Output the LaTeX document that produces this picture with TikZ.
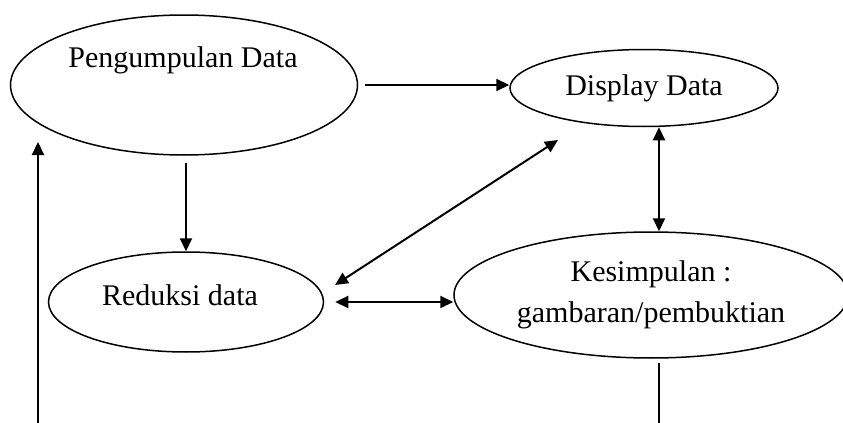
\documentclass[tikz,border=0pt]{standalone}
\usepackage{fontspec}
\setmainfont{Liberation Serif}
\usetikzlibrary{arrows.meta, shapes.geometric}

\begin{document}
\begin{tikzpicture}[x=0.5pt, y=-0.5pt, >={Triangle[length=6.5pt, width=6pt]},
    stage/.style={ellipse, draw, line width=0.75pt, inner sep=0pt, align=center, font=\fontsize{15}{20.5}\selectfont},
    txt/.style={font=\fontsize{15}{20.5}\selectfont},
    flow/.style={line width=1pt}]
    \useasboundingbox (0,0) rectangle (843,423);
    \clip (0,0) rectangle (843,423);

    \node[stage, minimum width=173.5pt, minimum height=70pt] (peng) at (184,85) {};
    \node[txt] (pengtext) at (183,60) {Pengumpulan Data};
    \node[stage, minimum width=134pt, minimum height=38.5pt] (disp) at (644,88) {Display Data};
    \node[stage, minimum width=137.5pt, minimum height=50pt] (red) at (186,302) {};
    \node[txt] (redtext) at (180,295) {Reduksi data};
    \node[stage, minimum width=197pt, minimum height=63pt] (kes) at (651,295) {Kesimpulan :\\gambaran/pembuktian};

    \coordinate (loopbot) at (38,423);
    \coordinate (looptop) at (38,142);
    \coordinate (kesbot) at (659,423);

    \draw[flow, ->] ([xshift=3.5pt]peng.east) -- (peng.east -| disp.west);
    \draw[flow, ->] ([shift={(2,7)}]peng.south) -- (red.north);
    \draw[flow, <->] ([shift={(149,-17)}]red.center) -- ([shift={(-86,52)}]disp.center);
    \draw[flow, <->] ([shift={(15,0)}]disp.south) -- ([shift={(8,0)}]kes.north);
    \draw[flow, <->] ([xshift=5.5pt]red.east) -- (red.east -| kes.west);
    \draw[flow] ([shift={(8,4)}]kes.south) -- (kesbot);
    \draw[flow, ->] (loopbot) -- (looptop);
\end{tikzpicture}
\end{document}
